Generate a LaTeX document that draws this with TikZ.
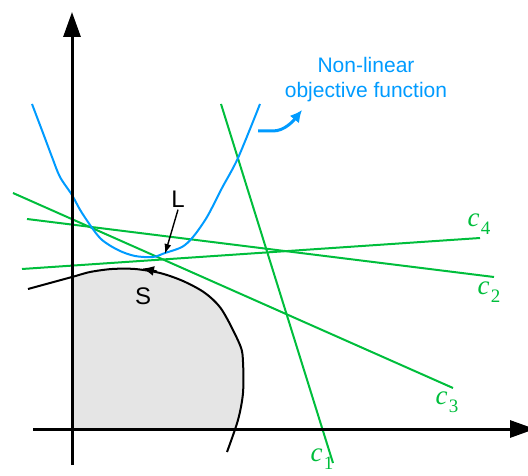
\documentclass[tikz,border=0pt]{standalone}
\usepackage{fontspec}
\setmainfont{Liberation Sans}
\newfontfamily\serifc{Liberation Serif}
\usetikzlibrary{arrows.meta,positioning}
\definecolor{fnblue}{RGB}{0,155,255}
\definecolor{cgreen}{RGB}{0,190,60}
\definecolor{feasgray}{RGB}{229,229,229}
\newcommand{\cname}[1]{{\serifc\fontsize{13.5}{15}\selectfont\itshape c}\kern0.6pt\raisebox{-4pt}{\serifc\fontsize{9.5}{10}\selectfont #1}}

\begin{document}
\begin{tikzpicture}[
  x=0.5pt, y=-0.5pt,
  axis/.style={line width=1.5pt, -{Triangle[length=12.5pt,width=8.5pt]}},
  cline/.style={cgreen, line width=1pt},
  clab/.style={text=cgreen, inner sep=0pt},
  ptlab/.style={font=\fontsize{12}{14}\selectfont, inner sep=1pt},
  bnd/.style={black, line width=1pt},
  objf/.style={fnblue, line width=1pt},
  pointer/.style={-{Latex[length=5pt,width=3.5pt]}, line width=0.7pt}
]
  \useasboundingbox (0,0) rectangle (528,475);

  % feasible region
  \begin{scope}
    \clip (72,0) rectangle (528,429);
    \fill[feasgray] plot[smooth, tension=0.5] coordinates {(28,289) (72,277) (90,272) (112,269) (135,269) (160,273) (183,281) (205,293) (222,310) (240,345) (243,362) (243,393) (238,420) (227,452)} -- (28,452) -- cycle;
  \end{scope}

  % constraints
  \coordinate (c1a) at (221,104);  \coordinate (c1b) at (333,463);
  \coordinate (c2a) at (27,219);   \coordinate (c2b) at (494,277);
  \coordinate (c3a) at (13,193);   \coordinate (c3b) at (453,388);
  \coordinate (c4a) at (22,269);   \coordinate (c4b) at (480,238);
  \draw[cline] (c1a) -- (c1b);
  \draw[cline] (c2a) -- (c2b);
  \draw[cline] (c3a) -- (c3b);
  \draw[cline] (c4a) -- (c4b);
  \node[clab] (lc1) at (322,459) {\cname{1}};
  \node[clab] (lc2) at (489,292) {\cname{2}};
  \node[clab] (lc3) at (447,402) {\cname{3}};
  \node[clab] (lc4) at (479,224) {\cname{4}};

  % objective
  \draw[objf] plot[smooth, tension=0.5] coordinates {(32,104) (43,133) (52,157) (60,177) (72,195) (82,213) (100,238) (118,250) (135,256) (153,257) (165,253) (182,247) (193,237) (207,217) (222,188) (238,158) (260,104)};
  \node[text=fnblue, align=center, font=\fontsize{10.5}{12.5}\selectfont] (obj) at (366,80) {Non-linear\\objective function};
  \coordinate (objs) at (258,131);
  \coordinate (objt) at (302,110);
  \draw[fnblue, line width=1.5pt, -{Latex[length=6pt,width=6pt]}] (objs) -- (273,131) .. controls (285,131) and (294,120) .. (objt);

  % boundary
  \draw[bnd] plot[smooth, tension=0.5] coordinates {(28,289) (72,277) (90,272) (112,269) (135,269) (160,273) (183,281) (205,293) (222,310) (240,345) (243,362) (243,393) (238,420) (227,452)};

  % axes
  \coordinate (o1) at (72,465);  \coordinate (ytip) at (72,12);
  \coordinate (o2) at (33,429);  \coordinate (xtip) at (535,429);
  \draw[axis] (o1) -- (ytip);
  \draw[axis] (o2) -- (xtip);

  % points L and S
  \coordinate (lpt) at (165,254);
  \node[ptlab] (L) at (178,199) {L};
  \draw[pointer] (L.south) -- (lpt);
  \coordinate (spt) at (142,268.5);
  \draw[bnd, -{Latex[length=6pt,width=5pt]}] (157,271.5) -- (spt);
  \node[ptlab] (S) at (143,296) {S};
\end{tikzpicture}
\end{document}
